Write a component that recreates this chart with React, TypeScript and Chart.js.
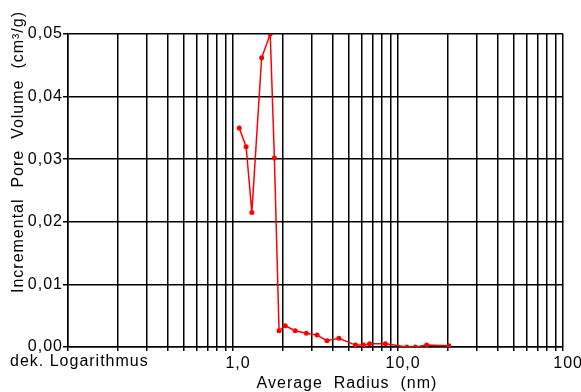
import { useEffect, useRef } from 'react';
import { Chart, registerables } from 'chart.js';

Chart.register(...registerables);

// Data
const radiusNm = [1.09, 1.2, 1.3, 1.49, 1.68, 1.78, 1.9, 2.07, 2.38, 2.78, 3.23, 3.71, 4.38, 5.52, 6.17, 6.71, 8.37, 11.3, 12.7, 14.9, 20.3];
const poreVolume = [0.035, 0.032, 0.0215, 0.0462, 0.05, 0.0302, 0.0026, 0.0034, 0.0026, 0.0022, 0.0019, 0.001, 0.0014, 0.0003, 0.0003, 0.0005, 0.0005, 0.0, 0.0, 0.0003, 0.0002];

// Logarithmic grid positions and labelled ticks
const xGridValues = [0.1, 0.2, 0.3, 0.4, 0.5, 0.6, 0.7, 0.8, 0.9, 1, 2, 3, 4, 5, 6, 7, 8, 9, 10, 20, 30, 40, 50, 60, 70, 80, 90, 100];
const xLabelValues = [1, 10, 100];
const xLabelTexts = ['1,0', '10,0', '100'];

const xTitle = 'Average  Radius  (nm)';
const yTitle = 'Incremental  Pore  Volume  (cm³/g)';
const scaleNote = 'dek. Logarithmus';

const FONT = '"Liberation Sans", Arial, sans-serif';

export default function App() {
  const ref = useRef<HTMLCanvasElement | null>(null);

  useEffect(() => {
    const canvas = ref.current;
    if (!canvas) return;

    const spacingPlugin = {
      id: 'spacing',
      beforeUpdate(chart: any) {
        chart.ctx.letterSpacing = '1px';
      },
      beforeDraw(chart: any) {
        chart.ctx.letterSpacing = '1px';
      },
      afterDraw(chart: any) {
        const ctx = chart.ctx;
        ctx.save();
        ctx.letterSpacing = '1px';
        ctx.font = `16px ${FONT}`;
        ctx.fillStyle = '#000';
        ctx.textBaseline = 'middle';
        ctx.textAlign = 'center';
        ctx.fillText(xTitle, 347, 384);
        ctx.textAlign = 'left';
        ctx.fillText(scaleNote, 10, 362);
        ctx.translate(19, 152);
        ctx.rotate(-Math.PI / 2);
        ctx.textAlign = 'center';
        ctx.fillText(yTitle, 0, 0);
        ctx.restore();
      },
    };

    const chart = new Chart(canvas, {
      type: 'line',
      data: {
        datasets: [
          {
            data: radiusNm.map((x, i) => ({ x, y: poreVolume[i] })),
            borderColor: '#ff0000',
            backgroundColor: '#ff0000',
            borderWidth: 1.5,
            pointRadius: 2.5,
            pointBorderWidth: 0,
            pointBackgroundColor: '#ff0000',
            tension: 0,
          },
        ],
      },
      options: {
        animation: false,
        responsive: false,
        layout: { padding: { top: 34, right: 16, left: 0, bottom: 0 } },
        plugins: {
          legend: { display: false },
          tooltip: { enabled: false },
        },
        scales: {
          x: {
            type: 'logarithmic',
            min: 0.1,
            max: 100,
            afterBuildTicks: (scale: any) => {
              scale.ticks = xGridValues.map((v) => ({ value: v }));
            },
            afterFit: (scale: any) => {
              scale.height = 45;
            },
            border: { display: true, color: '#000', width: 1.5 },
            grid: {
              color: '#000',
              lineWidth: 1.5,
              drawTicks: true,
              tickLength: 4,
              tickColor: '#000',
            },
            ticks: {
              autoSkip: false,
              maxRotation: 0,
              padding: 3,
              labelOffset: 5,
              color: '#000',
              font: { family: FONT, size: 16 },
              callback: (value: any) => {
                const v = Number(value);
                const idx = xLabelValues.findIndex((l) => Math.abs(l - v) < 1e-9);
                return idx >= 0 ? xLabelTexts[idx] : '';
              },
            },
          },
          y: {
            type: 'linear',
            min: 0,
            max: 0.05,
            afterFit: (scale: any) => {
              scale.width = 68;
            },
            border: { display: true, color: '#000', width: 1.5 },
            grid: {
              color: '#000',
              lineWidth: 1.5,
              drawTicks: true,
              tickLength: 5,
              tickColor: '#000',
            },
            ticks: {
              stepSize: 0.01,
              padding: 0,
              color: '#000',
              font: { family: FONT, size: 16 },
              callback: (value: any) => Number(value).toFixed(2).replace('.', ','),
            },
          },
        },
      },
      plugins: [spacingPlugin],
    } as any);

    return () => chart.destroy();
  }, []);

  return (
    <div style={{ position: 'fixed', left: 0, top: 0, width: 581, height: 392, background: '#fff' }}>
      <canvas ref={ref} width={581} height={392} style={{ display: 'block', width: 581, height: 392 }} />
    </div>
  );
}
